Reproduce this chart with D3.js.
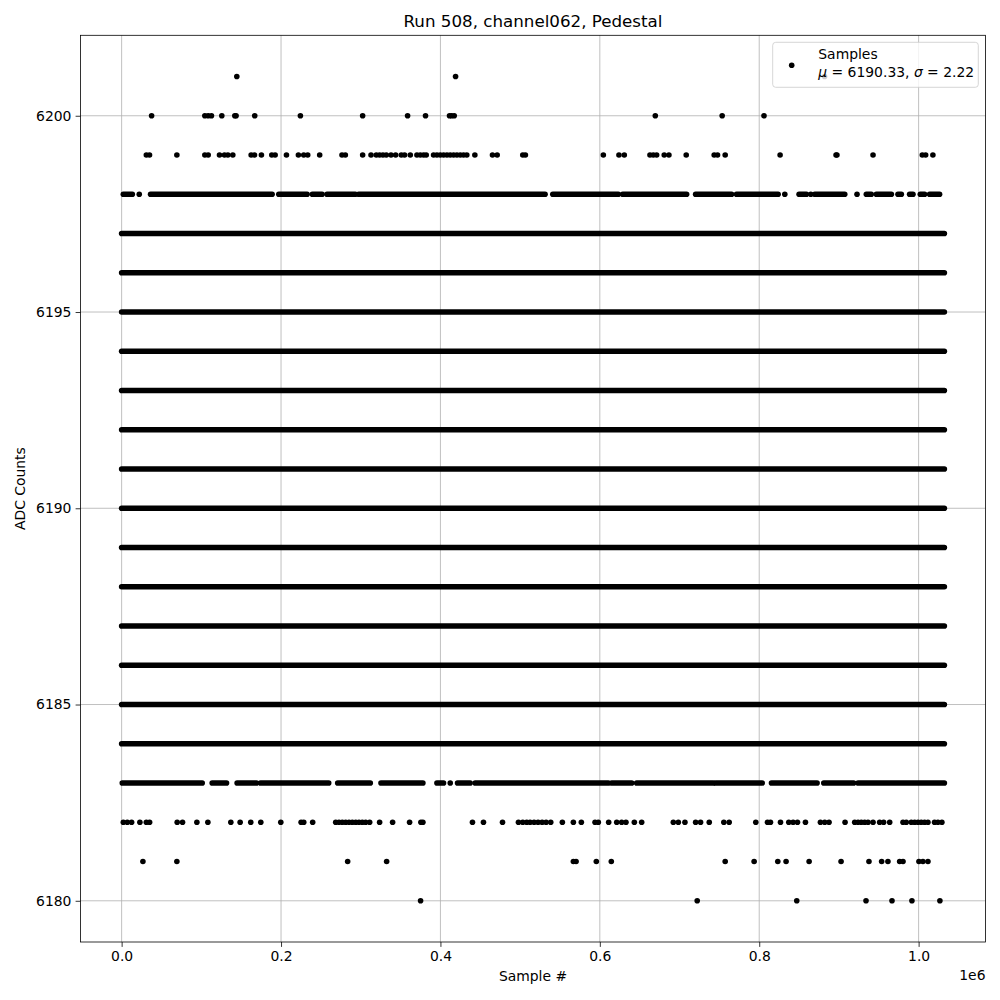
<!DOCTYPE html>
<html>
<head>
<meta charset="utf-8">
<script src="https://cdn.jsdelivr.net/npm/d3@7"></script>
<style>
  body { margin: 0; background: #fff; }
  svg { display: block; font-family: "DejaVu Sans", sans-serif; }
</style>
</head>
<body>
<svg id="chart" width="1000" height="1000"></svg>
<script>
// ---------------- DATA (x in samples, y in ADC counts) ----------------
const titleText = "Run 508, channel062, Pedestal";
const xLabelText = "Sample #";
const yLabelText = "ADC Counts";
const legendLine1 = "Samples";
const meanValue = "6190.33";
const sigmaValue = "2.22";

const xTicks = [0, 200000, 400000, 600000, 800000, 1000000];
const xTickLabels = ["0.0", "0.2", "0.4", "0.6", "0.8", "1.0"];
const xOffsetText = "1e6";
const yTicks = [6180, 6185, 6190, 6195, 6200];

// rows where samples form an unbroken band over the whole run
const fullRows = [6184, 6185, 6186, 6187, 6188, 6189, 6190, 6191, 6192, 6193, 6194, 6195, 6196, 6197];
const runExtent = [0, 1032300];

// rows that are dense in stretches: [start, end] of each run of samples
const runs6198 = [[2100,13400],[22100,22100],[36300,188800],[197200,232700],[239300,251500],[257700,293200],
  [297400,531300],[541000,623200],[628700,708900],[720200,765300],[771500,823700],[832100,832100],
  [850000,859200],[864700,864700],[869700,907300],[922700,922700],[934400,940600],[947000,965800],
  [974100,978300],[988700,992900],[1002100,1007500],[1013800,1026300]];
const runs6183 = [[800,101100],[113600,131600],[144900,169200],[174200,259800],[271100,312000],[325400,378000],
  [395600,403900],[412300,412300],[421500,437300],[443600,610700],[614900,640000],[646200,742300],
  [745200,803700],[815400,872600],[881000,918500],[924000,1032300]];

// sparse rows: individual samples
const pts6201 = [144500, 419000, 882000];
const pts6200 = [37600, 104400, 108600, 112700, 125700, 142000, 143600, 167000, 224300, 302400, 358800,
  381300, 411400, 414000, 417300, 669600, 753500, 806000];
const pts6199 = [31000, 35000, 69300, 104400, 108600, 122800, 129000, 133300, 139500, 162500, 166700, 175400,
  188400, 192600, 206800, 221800, 228500, 233500, 248500, 276500, 280700, 302400, 312900, 319500, 323700,
  327900, 332100, 338000, 343800, 350900, 355000, 362200, 370500, 374700, 378900, 382200, 391400, 395600,
  399800, 404000, 408200, 412300, 416500, 420700, 424900, 429000, 433100, 443200, 465300, 471200, 503300,
  506600, 604400, 624000, 630700, 662900, 667100, 671300, 680800, 686700, 708400, 743500, 747700, 757300,
  826200, 896400, 897500, 942800, 1004600, 1008800, 1017900];
const pts6182 = [2100, 7100, 12500, 22900, 31000, 35100, 69700, 76400, 94400, 108200, 137000, 148700, 162000,
  174600, 199700, 225200, 228500, 239700, 268600, 272700, 276900, 281100, 285300, 289500, 293700, 297800,
  302000, 306200, 311200, 323700, 340000, 361300, 375500, 378000, 440200, 454000, 477900, 497900, 503300,
  508300, 512500, 517500, 522500, 527600, 532600, 538400, 553000, 566800, 576800, 594000, 598100, 611100,
  621200, 627400, 632800, 643300, 652500, 692200, 698500, 706800, 720200, 726400, 737300, 755600, 762300,
  795700, 810400, 814100, 826700, 837100, 842500, 848000, 858000, 876800, 882200, 887600, 907700, 919800,
  924000, 928100, 932300, 936500, 942800, 951100, 956100, 963700, 980400, 984500, 990800, 995000, 999200,
  1003300, 1007500, 1011700, 1020000, 1024200, 1029200];
const pts6181 = [26700, 69300, 283600, 332500, 566800, 570200, 595600, 614400, 757300, 793600, 823300, 833700,
  862600, 902700, 937700, 953600, 961500, 976200, 980400, 1000400, 1005400, 1011700];
const pts6180 = [375100, 722200, 847100, 934000, 966600, 991600, 1026700];

// ---------------- BUILD ----------------
const sparseRows = [
  {y: 6201, xs: pts6201}, {y: 6200, xs: pts6200}, {y: 6199, xs: pts6199},
  {y: 6182, xs: pts6182}, {y: 6181, xs: pts6181}, {y: 6180, xs: pts6180}
];
const runRows = [{y: 6198, runs: runs6198}, {y: 6183, runs: runs6183}];

const points = [];
sparseRows.forEach(r => r.xs.forEach(x => points.push({x, y: r.y})));
const segments = [];
fullRows.forEach(y => segments.push({y, x0: runExtent[0], x1: runExtent[1]}));
runRows.forEach(r => r.runs.forEach(([a, b]) => segments.push({y: r.y, x0: a, x1: b})));

const allX = points.map(d => d.x).concat(segments.flatMap(d => [d.x0, d.x1]));
const allY = points.map(d => d.y).concat(segments.map(d => d.y));
const pad = (ext) => { const r = ext[1] - ext[0]; return [ext[0] - 0.05 * r, ext[1] + 0.05 * r]; };

const L = 80.5, R = 985.5, T = 35.3, B = 942;
const x = d3.scaleLinear().domain(pad(d3.extent(allX))).range([L, R]);
const y = d3.scaleLinear().domain(pad(d3.extent(allY))).range([B, T]);

const svg = d3.select("#chart");
const gridColor = "#b0b0b0";
const fs = 13.9;

// grid
const grid = svg.append("g");
grid.selectAll("line.gx").data(xTicks).join("line")
  .attr("x1", d => x(d)).attr("x2", d => x(d)).attr("y1", T).attr("y2", B)
  .attr("stroke", gridColor).attr("stroke-width", 0.8);
grid.selectAll("line.gy").data(yTicks).join("line")
  .attr("y1", d => y(d)).attr("y2", d => y(d)).attr("x1", L).attr("x2", R)
  .attr("stroke", gridColor).attr("stroke-width", 0.8);

// data
const plot = svg.append("g");
plot.selectAll("line.seg").data(segments).join("line")
  .attr("x1", d => x(d.x0)).attr("x2", d => x(d.x1))
  .attr("y1", d => y(d.y)).attr("y2", d => y(d.y))
  .attr("stroke", "#000").attr("stroke-width", 5.6).attr("stroke-linecap", "round");
plot.selectAll("circle").data(points).join("circle")
  .attr("cx", d => x(d.x)).attr("cy", d => y(d.y)).attr("r", 2.8).attr("fill", "#000");

// axes
const xAxis = d3.axisBottom(x).tickValues(xTicks).tickFormat((d, i) => xTickLabels[i])
  .tickSizeInner(4.9).tickSizeOuter(0).tickPadding(4.2);
const yAxis = d3.axisLeft(y).tickValues(yTicks).tickFormat(d3.format("d"))
  .tickSizeInner(4.9).tickSizeOuter(0).tickPadding(4.2);
const gx = svg.append("g").attr("transform", `translate(0,${B})`).call(xAxis);
const gy = svg.append("g").attr("transform", `translate(${L},0)`).call(yAxis);
[gx, gy].forEach(g => {
  g.select(".domain").remove();
  g.selectAll(".tick line").attr("stroke", "#000").attr("stroke-width", 0.8);
  g.selectAll(".tick text").attr("fill", "#000").attr("font-size", fs)
    .attr("font-family", "'DejaVu Sans', sans-serif");
});

// frame
svg.append("rect").attr("x", L).attr("y", T).attr("width", R - L).attr("height", B - T)
  .attr("fill", "none").attr("stroke", "#000").attr("stroke-width", 0.8);

// offset text
svg.append("text").attr("x", R).attr("y", 980).attr("text-anchor", "end")
  .attr("font-size", fs).text(xOffsetText);

// title & labels
svg.append("text").attr("x", (L + R) / 2).attr("y", 27).attr("text-anchor", "middle")
  .attr("font-size", 16.7).text(titleText);
svg.append("text").attr("x", (L + R) / 2).attr("y", 981).attr("text-anchor", "middle")
  .attr("font-size", fs).text(xLabelText);
svg.append("text").attr("transform", `translate(25,${(T + B) / 2}) rotate(-90)`)
  .attr("text-anchor", "middle").attr("font-size", fs).text(yLabelText);

// legend
const lg = svg.append("g");
lg.append("rect").attr("x", 772.7).attr("y", 42.3).attr("width", 205.6).attr("height", 45)
  .attr("rx", 3).attr("fill", "#fff").attr("fill-opacity", 0.8)
  .attr("stroke", "#cccccc").attr("stroke-width", 0.8);
lg.append("circle").attr("cx", 791.7).attr("cy", 65.2).attr("r", 2.8).attr("fill", "#000");
lg.append("text").attr("x", 818.3).attr("y", 59).attr("font-size", fs).text(legendLine1);
const t2 = lg.append("text").attr("x", 818.3).attr("y", 76.5).attr("font-size", fs);
t2.append("tspan").attr("font-style", "italic").text("μ");
t2.append("tspan").text(" = " + meanValue + ", ");
t2.append("tspan").attr("font-style", "italic").text("σ");
t2.append("tspan").text(" = " + sigmaValue);
</script>
</body>
</html>
